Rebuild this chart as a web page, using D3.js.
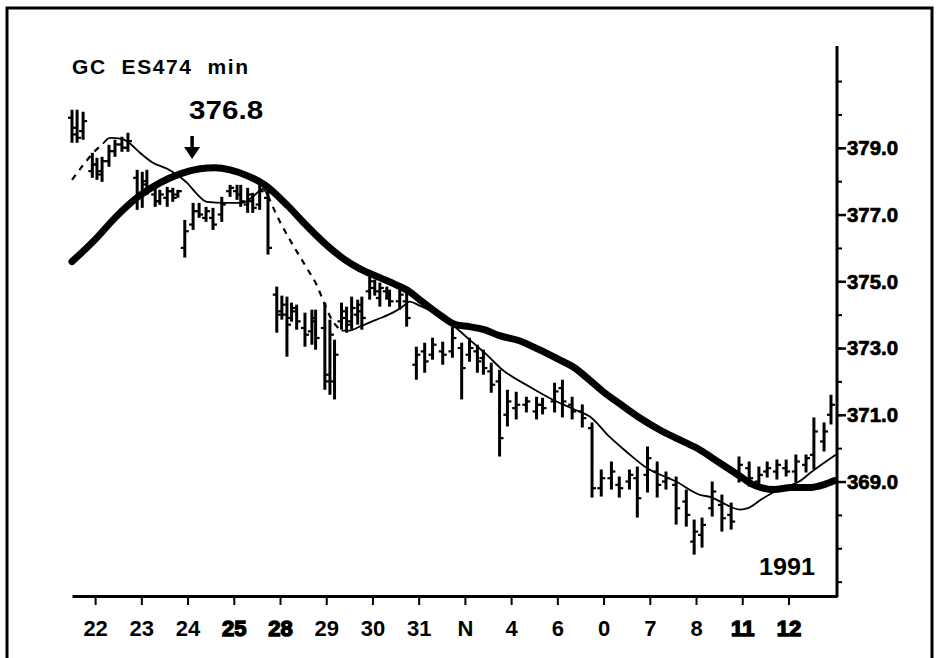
<!DOCTYPE html>
<html>
<head>
<meta charset="utf-8">
<script src="https://cdn.jsdelivr.net/npm/d3@7"></script>
<style>
  html, body { margin: 0; padding: 0; background: #fff; }
  svg { display: block; }
</style>
</head>
<body>
<svg id="chart" width="941" height="658"></svg>
<script>
// ---- data ----
const dayLabels = ["22","23","24","25","28","29","30","31","N","4","6","0","7","8","11","12"];
const heavyLabels = ["25","28","11","12"];
const priceTicksMajor = [369, 371, 373, 375, 377, 379];
const priceTicksMinor = [366,367,368,369,370,371,372,373,374,375,376,377,378,379,380,381];

// bar time (in trading-day units, tick = day start), high, low, open, close
const barT = [-0.50,-0.39,-0.26,-0.06,0.04,0.15,0.30,0.43,0.58,0.71,0.91,1.02,1.12,1.30,1.40,1.56,1.68,1.79,1.94,2.12,2.25,2.40,2.55,2.74,2.92,3.07,3.15,3.30,3.41,3.56,3.74,3.93,4.04,4.15,4.25,4.36,4.54,4.69,4.77,4.97,5.08,5.18,5.33,5.44,5.55,5.68,5.77,5.94,6.05,6.16,6.31,6.37,6.59,6.74,6.95,7.13,7.30,7.52,7.73,7.93,8.10,8.27,8.40,8.57,8.75,8.92,9.11,9.33,9.55,9.68,9.94,10.11,10.32,10.54,10.75,10.95,11.17,11.34,11.56,11.73,11.95,12.16,12.35,12.57,12.79,12.96,13.13,13.35,13.56,13.76,13.93,14.15,14.36,14.54,14.75,14.95,15.16,15.38,15.55,15.77,15.92];
const barHigh = [380.14,380.14,380.08,378.85,378.70,378.73,379.09,379.24,379.33,379.45,378.34,378.28,378.34,377.80,377.74,377.83,377.80,377.74,376.84,377.35,377.35,377.23,377.20,377.53,377.89,377.89,377.89,377.80,377.65,377.89,377.83,374.84,374.57,374.54,374.36,374.30,374.06,374.15,374.15,374.36,373.85,373.25,374.36,374.24,374.54,374.45,374.54,375.14,375.05,374.96,374.84,374.75,374.75,374.66,373.04,373.16,373.31,373.19,373.64,373.16,373.31,373.10,372.95,372.56,372.35,371.75,371.69,371.54,371.54,371.51,371.96,372.05,371.54,371.31,370.77,369.36,369.60,369.15,369.36,369.45,370.05,369.60,369.30,369.15,368.76,367.86,367.92,369.00,368.61,368.37,369.75,369.60,369.45,369.60,369.66,369.66,369.81,369.81,370.92,370.77,371.60];
const barLow = [379.15,379.15,379.24,378.10,378.04,377.98,378.43,378.73,378.88,378.88,377.14,377.20,377.59,377.23,377.29,377.23,377.38,377.50,375.71,376.54,376.90,376.78,376.54,376.78,377.53,377.44,377.23,377.05,377.05,377.14,375.80,373.46,373.85,372.74,373.79,373.55,373.04,373.10,372.95,371.75,371.60,371.46,373.55,373.46,373.55,373.70,373.55,374.45,374.57,374.24,374.45,374.24,374.15,373.64,372.05,372.26,372.65,372.50,372.71,371.46,372.59,372.26,372.20,371.66,369.75,370.65,370.86,371.07,370.86,371.01,371.07,370.92,370.86,370.62,368.52,368.55,368.76,368.52,368.76,367.92,368.67,368.52,368.76,367.71,367.65,366.81,367.02,367.95,367.50,367.56,368.97,368.85,368.76,369.12,369.06,369.15,368.97,369.27,369.36,369.90,370.71];
const barOpen = [379.9,379.6,379.5,378.3,378.5,378.2,378.6,378.9,379.1,379.0,378.1,377.5,378.0,377.6,377.4,377.5,377.7,377.6,376.0,376.7,377.1,376.9,376.9,377.0,377.7,377.7,377.6,377.3,377.4,377.3,377.5,374.6,374.1,374.0,373.9,374.1,373.6,373.5,373.8,373.6,372.2,372.0,373.8,373.9,373.8,374.0,374.1,374.7,374.8,374.5,374.7,374.5,374.4,374.4,372.5,372.9,372.8,372.9,372.9,373.0,372.8,372.9,372.7,372.3,372.0,371.0,371.2,371.3,371.1,371.3,371.4,371.8,371.3,371.1,370.6,368.8,369.1,368.9,369.0,369.1,369.2,369.3,369.0,368.9,368.4,367.2,367.4,368.2,368.3,368.0,369.2,369.4,369.0,369.3,369.3,369.4,369.3,369.5,369.8,370.2,371.0];
const barClose = [379.4,379.3,379.8,378.5,378.3,378.6,378.9,379.1,379.0,379.2,377.6,377.9,377.8,377.4,377.6,377.7,377.5,377.7,376.5,377.1,377.0,377.1,376.7,377.3,377.8,377.6,377.4,377.6,377.2,377.7,376.0,374.0,374.3,373.7,374.2,373.8,373.4,373.9,373.3,372.0,373.4,372.8,374.1,373.7,374.2,374.3,373.9,375.0,374.7,374.8,374.6,374.4,374.6,373.9,372.8,372.6,373.1,372.8,373.3,372.4,373.0,372.6,372.4,371.9,370.3,371.4,371.3,371.4,371.3,371.2,371.7,371.4,371.1,370.9,368.8,369.1,369.3,368.8,369.2,368.5,369.7,368.9,369.1,368.2,368.0,367.5,367.7,368.7,367.9,367.8,369.5,369.1,369.2,369.4,369.5,369.3,369.6,369.7,370.5,370.5,371.3];

// slow moving average (thick line)
const slowMA = [[-0.50,375.59],[0.02,376.28],[0.43,376.90],[0.93,377.53],[1.40,377.95],[1.84,378.22],[2.27,378.37],[2.59,378.40],[2.92,378.34],[3.35,378.13],[3.67,377.89],[4.17,377.26],[4.54,376.72],[4.95,376.16],[5.40,375.65],[5.72,375.38],[6.16,375.11],[6.50,374.90],[6.80,374.69],[7.02,374.45],[7.45,374.00],[7.80,373.70],[8.10,373.64],[8.42,373.55],[8.75,373.37],[9.18,373.22],[9.61,372.95],[10.04,372.65],[10.37,372.41],[10.69,372.05],[11.02,371.66],[11.34,371.34],[11.77,370.92],[12.20,370.56],[12.63,370.26],[13.07,369.96],[13.50,369.57],[13.93,369.18],[14.19,368.94],[14.41,368.82],[14.69,368.76],[15.06,368.82],[15.44,368.82],[15.77,368.91],[16.00,369.03]];

// fast moving average (thin line), in solid and dashed pieces
const fastDashedLead = [[-0.50,378.04],[-0.22,378.55],[-0.04,378.85],[0.17,379.12]];
const fastSolidTop = [[0.17,379.12],[0.32,379.30],[0.58,379.27],[0.76,379.12],[0.97,378.85],[1.25,378.55],[1.56,378.37],[1.77,378.19],[1.99,377.95],[2.20,377.62],[2.42,377.38],[2.81,377.35],[3.17,377.35],[3.41,377.53],[3.63,377.77],[3.74,377.56]];
const fastDashedDrop = [[3.74,377.56],[4.00,376.78],[4.21,376.25],[4.43,375.74],[4.60,375.35],[4.79,374.90],[4.97,374.30],[5.12,373.85],[5.33,373.52]];
const fastSolidTail = [[5.33,373.52],[5.51,373.52],[5.72,373.64],[6.09,373.85],[6.44,374.06],[6.65,374.24],[6.80,374.39],[7.02,374.27],[7.45,373.97],[7.78,373.64],[8.10,373.25],[8.47,372.80],[8.81,372.35],[9.40,371.84],[9.89,371.46],[10.37,371.16],[10.73,370.92],[11.12,370.35],[11.49,369.90],[11.92,369.42],[12.57,369.00],[13.07,368.61],[13.35,368.52],[13.65,368.31],[13.95,368.16],[14.15,368.22],[14.41,368.46],[14.79,368.76],[15.23,369.00],[15.51,369.30],[16.03,369.81]];

const titleText = "GC  ES474  min";
const peakText = "376.8";
const peakDay = 2.12;
const yearText = "1991";

// ---- drawing ----
const svg = d3.select("#chart");
const FONT = "'Liberation Sans', Arial, Helvetica, sans-serif";

svg.append("rect").attr("x", 0).attr("y", 0).attr("width", 941).attr("height", 658).attr("fill", "#fff");
// frame
svg.append("path")
  .attr("d", "M7,660 V8 H932 V660")
  .attr("fill", "none").attr("stroke", "#000").attr("stroke-width", 3);

const x = d3.scaleLinear().domain([-0.5, 16.05]).range([72, 837]);
const y = d3.scaleLinear().domain([365.6, 382.05]).range([595, 46]);

// right price axis
const yMinor = d3.axisRight(y).tickValues(priceTicksMinor).tickSize(5).tickFormat("").tickSizeOuter(0);
const gyMin = svg.append("g").attr("transform", "translate(837,0)").call(yMinor);
gyMin.select(".domain").remove();
gyMin.selectAll("line").attr("stroke", "#000").attr("stroke-width", 2);

const yMajor = d3.axisRight(y).tickValues(priceTicksMajor).tickSize(9).tickPadding(1)
  .tickFormat(d3.format(".1f")).tickSizeOuter(0);
const gyMaj = svg.append("g").attr("transform", "translate(837,0)").call(yMajor);
gyMaj.select(".domain").remove();
gyMaj.selectAll("line").attr("stroke", "#000").attr("stroke-width", 2.5);
gyMaj.selectAll("text")
  .attr("font-family", FONT).attr("font-size", 21).attr("font-weight", "bold")
  .attr("fill", "#000").attr("stroke", "#000").attr("stroke-width", 0.7)
  .attr("textLength", 51).attr("lengthAdjust", "spacingAndGlyphs");

svg.append("line").attr("x1", 837).attr("x2", 837).attr("y1", y.range()[1]).attr("y2", 597)
  .attr("stroke", "#000").attr("stroke-width", 3);

// bottom day axis
const xAxis = d3.axisBottom(x).tickValues(d3.range(dayLabels.length))
  .tickFormat((d, i) => dayLabels[i]).tickSize(9).tickPadding(15).tickSizeOuter(0);
const gx = svg.append("g").attr("transform", "translate(0,596)").call(xAxis);
gx.select(".domain").attr("stroke", "#000").attr("stroke-width", 3);
gx.selectAll("line").attr("stroke", "#000").attr("stroke-width", 2);
gx.selectAll("text")
  .attr("font-family", FONT).attr("font-size", 22).attr("font-weight", "bold").attr("fill", "#000")
  .attr("stroke", d => heavyLabels.includes(dayLabels[d]) ? "#000" : "none")
  .attr("stroke-width", 1.4);

// bars
const bars = svg.append("g");
barT.forEach((t, i) => {
  const cx = x(t);
  bars.append("line").attr("x1", cx).attr("x2", cx)
    .attr("y1", y(barHigh[i])).attr("y2", y(barLow[i]))
    .attr("stroke", "#000").attr("stroke-width", 3);
  bars.append("line").attr("x1", cx - 4).attr("x2", cx)
    .attr("y1", y(barOpen[i])).attr("y2", y(barOpen[i]))
    .attr("stroke", "#000").attr("stroke-width", 2.2);
  bars.append("line").attr("x1", cx).attr("x2", cx + 4)
    .attr("y1", y(barClose[i])).attr("y2", y(barClose[i]))
    .attr("stroke", "#000").attr("stroke-width", 2.2);
});

const line = d3.line().x(d => x(d[0])).y(d => y(d[1])).curve(d3.curveMonotoneX);

[fastSolidTop, fastSolidTail].forEach(seg => {
  svg.append("path").attr("d", line(seg)).attr("fill", "none")
    .attr("stroke", "#000").attr("stroke-width", 1.8);
});
[fastDashedLead, fastDashedDrop].forEach(seg => {
  svg.append("path").attr("d", line(seg)).attr("fill", "none")
    .attr("stroke", "#000").attr("stroke-width", 2.2).attr("stroke-dasharray", "6,6");
});

svg.append("path").attr("d", line(slowMA)).attr("fill", "none")
  .attr("stroke", "#000").attr("stroke-width", 7).attr("stroke-linecap", "round");

// texts
svg.append("text").attr("x", 72).attr("y", 74).text(titleText)
  .attr("font-family", FONT).attr("font-size", 21).attr("font-weight", "bold")
  .style("white-space", "pre").attr("textLength", 176).attr("lengthAdjust", "spacing");

const ax = x(peakDay) - 1;
svg.append("text").attr("x", ax - 3).attr("y", 119).attr("text-anchor", "start").text(peakText)
  .attr("font-family", FONT).attr("font-size", 25).attr("font-weight", "bold")
  .attr("textLength", 74).attr("lengthAdjust", "spacingAndGlyphs");

// arrow pointing down at the peak
svg.append("line").attr("x1", ax).attr("x2", ax).attr("y1", 136).attr("y2", 149)
  .attr("stroke", "#000").attr("stroke-width", 3.5);
svg.append("path").attr("d", `M${ax - 8},147 L${ax + 8},147 L${ax},159 Z`).attr("fill", "#000");

svg.append("text").attr("x", 787).attr("y", 575).attr("text-anchor", "middle").text(yearText)
  .attr("font-family", FONT).attr("font-size", 24).attr("font-weight", "bold")
  .attr("textLength", 56).attr("lengthAdjust", "spacingAndGlyphs");
</script>
</body>
</html>
